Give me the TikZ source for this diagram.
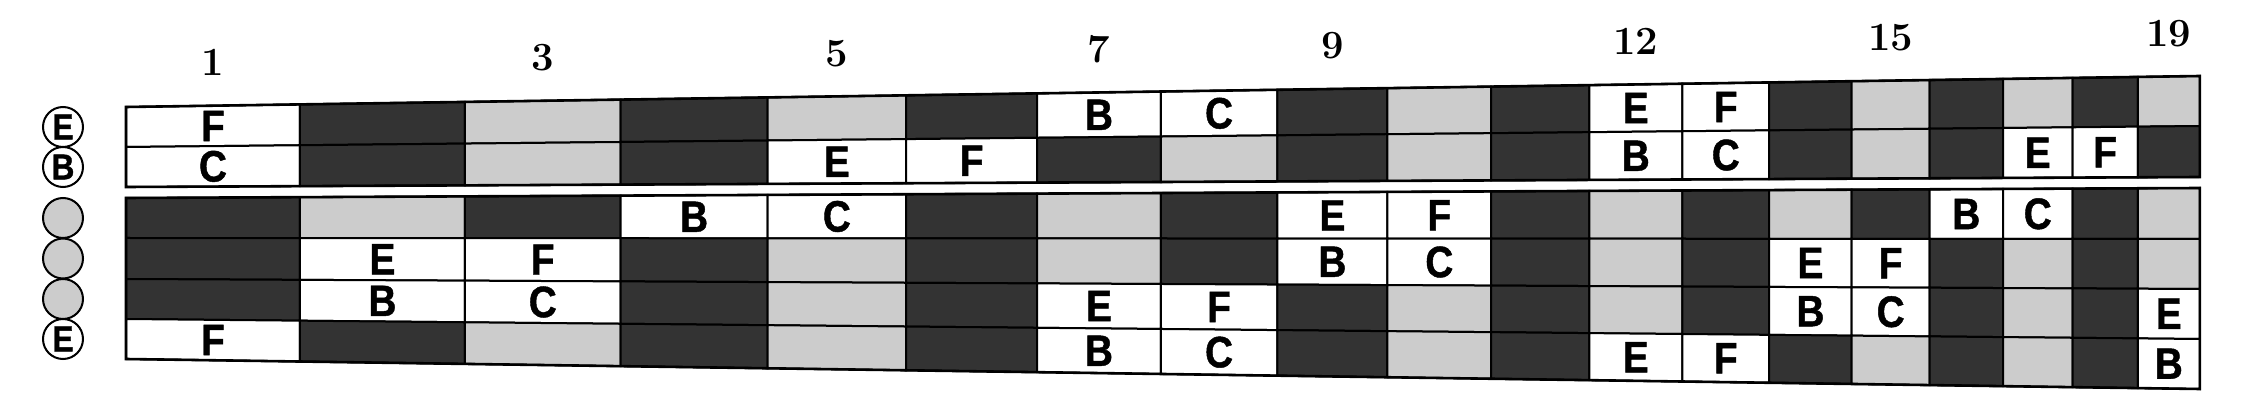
\documentclass[tikz,border=0pt]{standalone}
\usepackage{fontspec}
\newfontfamily\labfont[FakeStretch=0.88,FakeBold=1]{Liberation Sans}
\usetikzlibrary{calc}
\definecolor{darkcell}{HTML}{333333}
\definecolor{lightcell}{HTML}{CCCCCC}
\begin{document}
\begin{tikzpicture}[x=0.5pt,y=-0.5pt,
  cell/.style={draw=black,line width=1pt,line join=miter},
  border/.style={draw=black,line width=1.3pt,line join=miter},
  note/.style={font=\labfont\bfseries\fontsize{22}{23}\selectfont,inner sep=0pt},
  fretnum/.style={font=\bfseries\fontsize{20}{21}\selectfont,inner sep=0pt},
  strcirc/.style={draw=black,line width=1pt,circle,minimum size=20pt,inner sep=0pt,
    font=\labfont\bfseries\fontsize{18}{19}\selectfont}]
\useasboundingbox (0,0) rectangle (2246,400);
\def\yl{{107,147,187,198,238,279,319,359}}
\def\yr{{76,126,177,188,239,289,339,389}}
\def\dcode{d}\def\lcode{l}
% grid points: line i, fret k
\foreach \k in {0,...,19}{
  \pgfmathsetmacro\tt{1-pow(2,-\k/12)}
  \pgfmathsetmacro\xx{126+3112.75*\tt}
  \pgfmathsetmacro\ff{\tt*1.500844}
  \foreach \i in {0,...,7}{
    \pgfmathsetmacro\yy{\yl[\i]+(\yr[\i]-\yl[\i])*\ff}
    \coordinate (p\i-\k) at (\xx,\yy);
  }
}
% cells
\foreach \t/\codes in {
 0/{F,d,l,d,l,d,B,C,d,l,d,E,F,d,l,d,l,d,l},
 1/{C,d,l,d,E,F,d,l,d,l,d,B,C,d,l,d,E,F,d},
 3/{d,l,d,B,C,d,l,d,E,F,d,l,d,l,d,B,C,d,l},
 4/{d,E,F,d,l,d,l,d,B,C,d,l,d,E,F,d,l,d,l},
 5/{d,B,C,d,l,d,E,F,d,l,d,l,d,B,C,d,l,d,E},
 6/{F,d,l,d,l,d,B,C,d,l,d,E,F,d,l,d,l,d,B}}{
  \pgfmathtruncatemacro\b{\t+1}
  \foreach \c [count=\k] in \codes {
    \pgfmathtruncatemacro\km{\k-1}
    \edef\cc{\c}
    \ifx\cc\dcode
      \filldraw[cell,fill=darkcell] (p\t-\km) -- (p\t-\k) -- (p\b-\k) -- (p\b-\km) -- cycle;
    \else\ifx\cc\lcode
      \filldraw[cell,fill=lightcell] (p\t-\km) -- (p\t-\k) -- (p\b-\k) -- (p\b-\km) -- cycle;
    \else
      \filldraw[cell,fill=white] (p\t-\km) -- (p\t-\k) -- (p\b-\k) -- (p\b-\km) -- cycle;
      \node[note] (n\t-\k) at (barycentric cs:p\t-\km=1,p\t-\k=1,p\b-\k=1,p\b-\km=1) {\c};
    \fi\fi
  }
}
% block outlines
\draw[border] (p0-0) -- (p0-19) -- (p2-19) -- (p2-0) -- cycle;
\draw[border] (p3-0) -- (p3-19) -- (p7-19) -- (p7-0) -- cycle;
% fret numbers
\foreach \k in {1,3,5,7,9,12,15,19}{
  \pgfmathtruncatemacro\km{\k-1}
  \node[fretnum] (f\k) at ($($(p0-\km)!0.5!(p0-\k)$)+(0,-43)$) {\k};
}
% string circles
\node[strcirc,fill=white] (s1) at (63,127) {E};
\node[strcirc,fill=white] (s2) at (63,167) {B};
\node[strcirc,fill=lightcell] (s3) at (63,218) {};
\node[strcirc,fill=lightcell] (s4) at (63,258.5) {};
\node[strcirc,fill=lightcell] (s5) at (63,299) {};
\node[strcirc,fill=white] (s6) at (63,339) {E};
\end{tikzpicture}
\end{document}
